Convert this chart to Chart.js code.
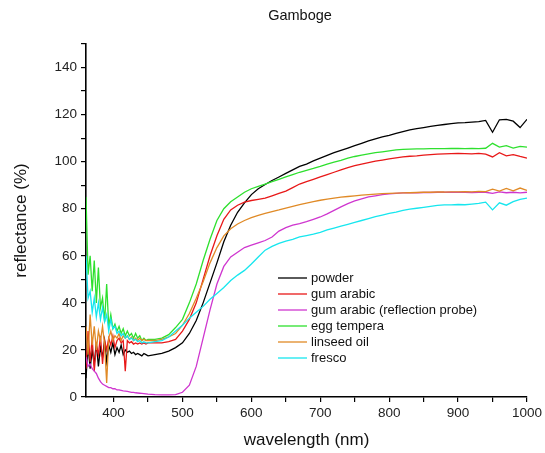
<!DOCTYPE html>
<html>
<head>
<meta charset="utf-8">
<script src="https://cdn.jsdelivr.net/npm/chart.js@4"></script>
<style>
  body { margin: 0; background: #fff; }
  canvas { display: block; }
</style>
</head>
<body>
<canvas id="spectra" width="545" height="453"></canvas>
<script>
// wavelengths (nm) shared by all series
const wavelengths = [
  360,363,366,369,372,375,378,381,384,387,390,393,396,399,402,405,408,411,414,417,420,423,426,429,432,435,438,441,444,447,450,
  460,470,480,490,500,
  510,520,530,540,550,560,570,580,590,600,
  610,620,630,640,650,660,670,680,690,700,
  710,720,730,740,750,760,770,780,790,800,
  810,820,830,840,850,860,870,880,890,900,
  910,920,930,940,950,960,970,980,990,1000
];

const powder = [
  8,22,12,20,14,23,13,21,17,24,15,22,19,23,18,21,19,22,18,20,19,19.5,18.5,19,18,18.5,18,17.5,18.5,18,17.5,
  18,18.5,19.5,21,23,
  27,32.5,40,48.5,57,66,73,78.5,82.5,86,
  88.5,90.3,92,93.5,95,96.5,98,99,100.3,101.5,
  102.7,103.8,104.8,105.8,106.8,107.8,108.8,109.7,110.5,111.2,
  112,112.8,113.5,114,114.5,115,115.4,115.8,116.2,116.5,
  116.6,116.8,117,117.5,112.5,117.8,118,117.2,114.5,118
];

const gumArabic = [
  12,28,15,25,11,22,18,26,14,24,20,25,22,26,21,24,25,23,24,11,24,23,23.5,22.5,23,22.5,23,22.5,23,22.5,23,
  23,23,23.5,24.5,28,
  33,40,50,60,68.5,75.5,79.5,81.5,82.8,83.5,
  84,84.5,85.5,86.5,87.5,89,90.5,91.5,92.5,93.5,
  94.5,95.5,96.5,97.5,98.3,99,99.6,100.2,100.7,101.2,
  101.6,102,102.3,102.5,102.8,103,103.2,103.3,103.4,103.5,
  103.4,103.3,103.5,103.2,102,103.8,102.5,103,102.2,101.5
];

const gumArabicProbe = [
  17,13,14,12,11,10,8,6.5,5.5,5,4.5,4,4,3.5,3.5,3,3,2.8,2.6,2.5,2.4,2.2,2,2,1.8,1.7,1.6,1.5,1.4,1.3,1.2,
  1,0.9,0.9,1,2,
  5,13,25,37,48,55.5,59.5,61.5,63.5,64.5,
  65.5,66.5,68,70.5,72,73,73.7,74.5,75.5,76.5,
  77.8,79.3,80.8,82.2,83.3,84.2,85,85.5,86,86.3,
  86.5,86.7,86.8,86.8,86.9,86.9,87,87,87,87,
  87,86.9,87,87,86.5,87.2,86.8,87,86.7,87
];

const eggTempera = [
  85,52,60,45,58,40,55,38,42,32,48,30,35,29,31,28,30,27,29,26,28,26,27,25,27,25,26,24,25,24,24.5,
  24.5,25,26.5,29.5,33,
  40,48,58,67,75,80,83,85,87,88.5,
  89.5,90.5,91.5,92.5,93.5,94.5,95.5,96.3,97.1,98,
  99,99.8,100.6,101.5,102.2,102.8,103.3,103.8,104.2,104.6,
  105,105.2,105.3,105.4,105.4,105.5,105.5,105.5,105.6,105.6,
  105.5,105.6,105.5,105.7,107.8,106.2,106.8,105.8,106.5,106.2
];

const linseedOil = [
  30,18,35,22,30,20,28,24,30,22,6,25,28,24,26,25,27,24,26,25,26,24.5,25.5,24,25,24,25,24,24.5,24,24,
  24,24.5,25.5,27,30.5,
  35.5,42,49,57,63.5,68.5,71.5,73.5,75,76.2,
  77.2,78,78.8,79.5,80.3,81,81.7,82.4,83,83.6,
  84.1,84.5,84.9,85.2,85.5,85.8,86,86.2,86.4,86.5,
  86.6,86.7,86.8,86.9,87,87,87.1,87.1,87.2,87.2,
  87.3,87.2,87.4,87.3,88.3,87.5,88.6,87.6,88.8,87.8
];

const fresco = [
  60,42,45,36,42,34,40,33,38,32,35,28,33,29,30,27,28,26,27,25,26,24.5,25,24,24.5,23.5,24,23,23.5,23,23,
  23.5,24,25.5,28,30.5,
  33.5,36,38.5,41.5,44,46.5,49.5,51.8,53.8,56.5,
  59.5,62.4,64,65.3,66.2,67,68,68.6,69.2,70,
  71,71.8,72.6,73.4,74.2,75,75.8,76.6,77.3,78,
  78.6,79.3,79.8,80.2,80.6,81,81.4,81.6,81.6,81.8,
  81.7,82,82.3,82.8,79.5,82.5,81.5,83,84,84.5
];

const seriesLabels = ["powder", "gum arabic", "gum arabic (reflection probe)", "egg tempera", "linseed oil", "fresco"];
const seriesValues = [powder, gumArabic, gumArabicProbe, eggTempera, linseedOil, fresco];
const seriesColors = ["#000000", "#e81818", "#cf36cf", "#2ee02e", "#e08a26", "#16e6ee"];

// tick positions (major ones get a label)
const xTicks = [400, 450, 500, 550, 600, 650, 700, 750, 800, 850, 900, 950, 1000];
const xLabelled = [400, 500, 600, 700, 800, 900, 1000];
const yTicks = [0, 10, 20, 30, 40, 50, 60, 70, 80, 90, 100, 110, 120, 130, 140, 150];
const yLabelled = [0, 20, 40, 60, 80, 100, 120, 140];

const FONT = "'Liberation Sans', Arial, sans-serif";

// title drawn over the plot area
const titlePlugin = {
  id: "plotTitle",
  afterDraw(chart) {
    const ctx = chart.ctx;
    ctx.save();
    ctx.font = "14.5px " + FONT;
    ctx.fillStyle = "#111";
    ctx.textAlign = "center";
    ctx.textBaseline = "middle";
    ctx.fillText("Gamboge", 300, 16);
    ctx.restore();
  }
};

// legend inside the plot, lower right
const legendPlugin = {
  id: "insideLegend",
  afterDraw(chart) {
    const ctx = chart.ctx;
    const area = chart.chartArea;
    const x0 = area.left + 192;
    const y0 = area.top + 234;
    ctx.save();
    ctx.font = "13px " + FONT;
    ctx.textBaseline = "middle";
    chart.data.datasets.forEach((ds, i) => {
      const y = y0 + i * 16;
      ctx.strokeStyle = ds.borderColor;
      ctx.lineWidth = 1.3;
      ctx.beginPath();
      ctx.moveTo(x0, y);
      ctx.lineTo(x0 + 29, y);
      ctx.stroke();
      ctx.fillStyle = "#111";
      ctx.fillText(ds.label, x0 + 33, y + 0.5);
    });
    ctx.restore();
  }
};

const datasets = seriesLabels.map((label, i) => ({
  label: label,
  data: wavelengths.map((w, j) => ({ x: w, y: seriesValues[i][j] })),
  borderColor: seriesColors[i],
  borderWidth: 1.3,
  pointRadius: 0,
  tension: 0,
  fill: false,
  order: seriesLabels.length - 1 - i
}));

new Chart(document.getElementById("spectra"), {
  type: "line",
  data: { datasets: datasets },
  plugins: [titlePlugin, legendPlugin],
  options: {
    responsive: false,
    animation: false,
    layout: { padding: { top: 44, right: 18, left: 0, bottom: 0 } },
    plugins: {
      legend: { display: false },
      title: { display: false },
      tooltip: { enabled: false }
    },
    scales: {
      x: {
        type: "linear",
        min: 360,
        max: 1000,
        afterFit: s => { s.height = 56; },
        afterBuildTicks: s => { s.ticks = xTicks.map(v => ({ value: v })); },
        ticks: {
          autoSkip: false,
          maxRotation: 0,
          padding: 3,
          color: "#222",
          font: { family: FONT, size: 13.5 },
          callback: v => (xLabelled.includes(v) ? String(v) : "")
        },
        grid: { drawOnChartArea: false, drawTicks: true, tickLength: 5, color: "#000", lineWidth: 1.2 },
        border: { display: true, color: "#000", width: 1.6 },
        title: {
          display: true,
          text: "wavelength (nm)",
          color: "#111",
          font: { family: FONT, size: 17 },
          padding: { top: 0, bottom: 2 }
        }
      },
      y: {
        min: 0,
        max: 150,
        afterFit: s => { s.width = 86; },
        afterBuildTicks: s => { s.ticks = yTicks.map(v => ({ value: v })); },
        ticks: {
          autoSkip: false,
          padding: 4,
          color: "#222",
          font: { family: FONT, size: 13.5 },
          callback: v => (yLabelled.includes(v) ? String(v) : "")
        },
        grid: { drawOnChartArea: false, drawTicks: true, tickLength: 5, color: "#000", lineWidth: 1.2 },
        border: { display: true, color: "#000", width: 1.6 },
        title: {
          display: true,
          text: "reflectance (%)",
          color: "#111",
          font: { family: FONT, size: 17 },
          padding: { top: 11, bottom: 0 }
        }
      }
    }
  }
});
</script>
</body>
</html>
